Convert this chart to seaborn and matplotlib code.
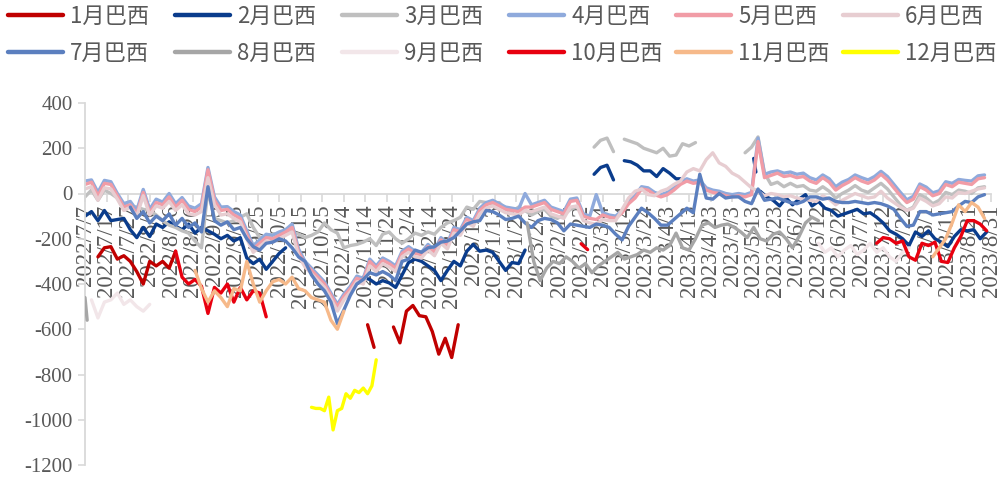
import matplotlib
matplotlib.use("Agg")
import matplotlib.pyplot as plt
import matplotlib.dates as mdates
from matplotlib.lines import Line2D
import pandas as pd
import seaborn as sns

# Each series is a list of segments: (first date, spacing in days, values).
# Separate segments leave gaps in the line.
JAN_BR = [
    ("2022-07-13", 3, [-280, -240, -235, -290, -275, -300, -345, -400, -300, -320, -300, -330, -255]),
    ("2022-11-15", 3, [-580, -680]),
    ("2022-11-27", 3, [-590, -660, -520, -495, -540, -545, -610, -710, -640, -725, -580]),
]
FEB_BR = [
    ("2022-07-07", 3, [-100, -80, -120, -75, -120, -115, -110, -160, -195, -150,
                       -190, -135, -150, -125, -145, -160, -135, -175, -150, -165,
                       -180, -200, -185, -210, -195, -285, -310, -290, -335, -300,
                       -265, -240]),
    ("2022-11-13", 3, [-370, -380, -400, -385, -395, -415, -360, -305, -290, -300,
                       -320, -340, -385, -340, -300, -320, -255, -225, -255, -250,
                       -260, -300, -340, -305, -310, -250]),
    ("2023-02-28", 3, [85, 115, 125, 60]),
    ("2023-03-14", 3, [145, 140, 125, 100, 100, 75, 110, 90, 65, 65]),
    ("2023-05-13", 1, [155, 95]),
    ("2023-05-16", 3, [10, -15, -30, -55, -20, -50, -25, -5, -55, -35,
                       -65, -75, -100, -90, -80, -70, -90, -85, -105, -130,
                       -165, -180, -200, -230, -170, -190, -165, -200, -215, -235,
                       -190, -160, -165, -160, -200, -170]),
]
MAR_BR = [
    ("2022-07-07", 3, [-15, 15, -30, 15, 0, -20, -45, -55, -60, -70,
                       -75, -95, -120, -140, -150, -165, -175, -210, -240, 15,
                       -110, -120, -130, -120, -105, -90, -150, -195, -190, -180,
                       -175, -165, -170, -180, -195, -185, -170, -130, -160, -175,
                       -240, -230, -225, -215, -200, -230, -180, -170, -200, -220,
                       -200, -175, -185, -170, -180, -150, -130, -120, -105, -60,
                       -70, -35, -40, -45, -40, -70, -80, -60, -75, -95,
                       -80, -70, -100, -110, -95, -70, -60]),
    ("2023-02-28", 3, [205, 235, 245, 185]),
    ("2023-03-14", 3, [240, 230, 220, 200, 190, 180, 200, 165, 170, 220, 210, 225]),
    ("2023-05-09", 3, [180, 205, 250, 90, 40, 50, 30, 45, 30, 35,
                       15, 10, 30, 10, -20, 0, 15, 35, 15, 5,
                       25, 45, 20, -15, -50, -75, -60, -5, -20, -45,
                       -30, 5, -5, 15, 10, 0, 25, 30]),
]
APR_BR = [
    ("2022-07-07", 3, [55, 60, 5, 58, 52, 0, -45, -35, -75, 18,
                       -70, -25, -38, 0, -45, -18, -55, -65, -45, 115,
                       -15, -60, -58, -80, -95, -165, -230, -205, -180, -185,
                       -170, -160, -135, -245, -300, -330, -360, -390, -440, -490,
                       -445, -410, -365, -375, -290, -320, -285, -300, -320, -255,
                       -235, -255, -260, -225, -250, -195, -220, -150, -160, -105,
                       -120, -65, -40, -30, -45, -60, -65, -70, 0, -50,
                       -40, -30, -60, -70, -80, -25, -20, -90, -100, -5,
                       -85, -95, -100, -75, -35, -10, 30, 25, 5, -5,
                       5, 25, 50, 65, 55, 60, 25, 15, 10, 0,
                       -5, 0, -5, 5, 245, 85, 95, 100, 90, 95,
                       85, 90, 70, 60, 82, 65, 30, 50, 62, 82,
                       70, 60, 75, 98, 75, 40, 5, -28, -12, 42,
                       28, 3, 12, 52, 45, 62, 58, 55, 78, 82]),
]
MAY_BR = [
    ("2022-07-07", 3, [40, 50, -10, 45, 40, -10, -60, -50, -90, 5,
                       -85, -40, -50, -15, -60, -30, -70, -80, -60, 105,
                       -30, -75, -70, -95, -110, -180, -245, -220, -195, -200,
                       -185, -170, -150, -260, -310, -340, -370, -400, -450, -500,
                       -455, -420, -375, -385, -300, -330, -295, -310, -330, -265,
                       -245, -265, -270, -235, -260, -205, -230, -160, -170, -115,
                       -130, -75, -50, -40, -55, -70, -75, -80, -60, -60,
                       -50, -40, -70, -80, -90, -35, -30, -100, -110, -115,
                       -95, -105, -110, -85, -45, -20, 20, 15, -5, -15,
                       -5, 15, 40, 55, 45, 50, 15, 5, 0, -10,
                       -15, -10, -15, -5, 230, 70, 80, 90, 75, 80,
                       70, 75, 55, 45, 70, 50, 15, 35, 50, 70,
                       55, 45, 60, 85, 60, 25, -10, -40, -25, 30,
                       15, -10, 0, 40, 30, 50, 45, 40, 65, 70]),
]
JUN_BR = [
    ("2022-07-07", 3, [20, 30, -30, 25, 20, -25, -75, -60, -100, -10,
                       -95, -55, -65, -35, -75, -50, -90, -95, -80, 70,
                       -50, -95, -90, -110, -125, -200, -260, -235, -210, -215,
                       -200, -185, -170, -275, -325, -355, -385, -415, -465, -520,
                       -470, -435, -390, -400, -320, -345, -310, -325, -345, -280,
                       -260, -280, -285, -250, -275, -220, -245, -175, -185, -130,
                       -145, -90, -65, -55, -70, -85, -90, -95, -75, -80,
                       -70, -60, -90, -100, -110, -60, -55, -120, -130, -135,
                       -115, -120, -120, -70, -20, 10, 20, -5, -10, 10,
                       20, 40, 55, 95, 110, 100, 150, 180, 135, 120,
                       90, 75, 50, 25, 10, -10, 0, -5, -15, -10,
                       -20, -25, -30, -35, -10, -25, -50, -30, -15, 0,
                       -10, -20, -15, 10, -20, -40, -60, -75, -65, -20,
                       -35, -55, -45, -15, -20, 5, 0, 10, 20, 25]),
]
JUL_BR = [
    ("2022-07-28", 3, [-60, -110, -80, -130, -100, -120, -90, -140, -110, -150,
                       -130, -170, 30, -120, -140, -125, -160, -150, -200, -235,
                       -250, -220, -215, -200, -210, -240, -280, -300, -360, -400,
                       -430, -480, -575, -515, -450, -400, -380, -350, -360, -345,
                       -360, -385, -300, -290, -250, -260, -240, -235, -215, -210,
                       -195, -165, -135, -125, -120,
                       -75, -80, -95, -115, -110, -100, -130, -150, -120, -110,
                       -115, -130, -165, -135, -140, -145, -150, -135, -140, -150,
                       -180, -205, -145, -105, -65, -85, -110, -140, -140, -115,
                       -90, -65, -85, 85, -20, -25, 0, -20, -15, -15,
                       -35, -45, 20, -30, -25, -20, -30, -40, -45, -35,
                       -15, -15, -25, -20, -35, -40, -40, -35, -40, -45,
                       -40, -45, -55, -70, -110, -145, -140, -80, -80, -95,
                       -90, -85, -80, -55, -35, -40, -15, -5]),
]
AUG_BR = [
    ("2022-07-07", 1, [-460, -560]),
    ("2023-01-28", 3, [-130, -300, -385, -330, -300, -310, -280, -300, -330, -310,
                       -350, -320, -300, -280, -260, -290, -280, -270, -250, -260,
                       -240, -250, -230, -175, -240, -250, -200, -140, -130, -150,
                       -140, -135, -150, -170, -195, -150, -200, -210, -180, -170,
                       -200, -240, -190, -130, -105, -120]),
]
SEP_BR = [
    ("2022-07-10", 3, [-470, -550, -480, -470, -440, -490, -470, -500, -520, -490]),
    ("2023-06-12", 3, [-220, -260, -240, -280, -250, -230, -270, -250, -220, -260,
                       -240, -280, -300, -260, -240]),
]
OCT_BR = [
    ("2022-08-18", 3, [-255, -370, -400, -380, -410, -530, -415, -440, -400, -480,
                       -415, -470, -430, -440, -545]),
    ("2023-02-22", 3, [-222, -248]),
    ("2023-07-09", 3, [-220, -195, -200, -220, -210, -280, -295, -220, -230, -215,
                       -300, -305, -240, -190, -120, -120, -135, -165]),
]
NOV_BR = [
    ("2022-08-27", 3, [-340, -420, -480, -430, -460, -500, -420, -430, -300, -400,
                       -480, -430, -390, -380, -400, -370, -420, -430, -460, -470,
                       -480, -560, -600, -520]),
    ("2023-08-04", 3, [-280, -240, -200, -130, -50, -80, -40, -60, -110]),
]
DEC_BR = [
    ("2022-10-20", 2, [-945, -950, -950, -960, -900, -1045, -960, -950, -885, -905,
                       -870, -880, -860, -885, -850, -735]),
]

LABELS = ["1月巴西", "2月巴西", "3月巴西", "4月巴西", "5月巴西", "6月巴西",
          "7月巴西", "8月巴西", "9月巴西", "10月巴西", "11月巴西", "12月巴西"]
COLORS = ["#C00000", "#0A3C8C", "#BFBFBF", "#8FAADC", "#F19CA6", "#E7CDD1",
          "#5B7FBF", "#A6A6A6", "#F2E6E9", "#E8000F", "#F6B98A", "#FFFF00"]
DATA = [JAN_BR, FEB_BR, MAR_BR, APR_BR, MAY_BR, JUN_BR,
        JUL_BR, AUG_BR, SEP_BR, OCT_BR, NOV_BR, DEC_BR]

X_START, X_END = "2022-07-07", "2023-08-31"
Y_TICKS = list(range(-1200, 401, 200))


def to_frame(segments):
    rows = []
    for k, (start, step, vals) in enumerate(segments):
        dates = pd.date_range(start, periods=len(vals), freq=f"{step}D")
        rows.extend((d, v, k) for d, v in zip(dates, vals))
    return pd.DataFrame(rows, columns=["date", "value", "seg"])


sns.set_style("white")
plt.rcParams["font.family"] = ["Noto Sans CJK SC", "DejaVu Sans"]

W, H = 1003, 479
fig = plt.figure(figsize=(W / 100, H / 100), dpi=100)
ax = fig.add_axes([85 / W, 14 / H, 906 / W, 362 / H])

for i, (segs, color) in enumerate(zip(DATA, COLORS)):
    sns.lineplot(data=to_frame(segs), x="date", y="value", units="seg",
                 estimator=None, sort=False, color=color, linewidth=2.4,
                 solid_joinstyle="round", solid_capstyle="round",
                 zorder=2 + i * 0.1, legend=False, ax=ax)

ax.set_xlim(pd.Timestamp(X_START), pd.Timestamp(X_END))
ax.set_ylim(-1200, 400)
ax.set_xlabel("")
ax.set_ylabel("")

grey_axis = "#D9D9D9"
text_grey = "#595959"
for side in ("top", "right"):
    ax.spines[side].set_visible(False)
for side in ("left", "bottom"):
    ax.spines[side].set_color(grey_axis)
    ax.spines[side].set_linewidth(1.3)
ax.spines["bottom"].set_position(("data", 0))
ax.spines["bottom"].set_zorder(1)

ax.set_yticks(Y_TICKS)
ax.set_yticklabels([str(v) for v in Y_TICKS], fontfamily="Liberation Serif",
                   fontsize=15, color=text_grey)
tick_dates = pd.date_range(X_START, X_END, freq="10D")
ax.set_xticks(mdates.date2num(tick_dates))
ax.set_xticklabels([f"{d.year}/{d.month}/{d.day}" for d in tick_dates],
                   rotation=90, fontfamily="Liberation Serif", fontsize=16.5,
                   color=text_grey)
ax.tick_params(axis="y", length=5, width=1.2, color=grey_axis, pad=4, left=True)
ax.tick_params(axis="x", length=6, width=1.2, color=grey_axis, pad=2,
               direction="out", bottom=True)

# Legend laid out as six equal-width columns of two rows each.
COL_STEP = 167
for c in range(6):
    idx = [c, c + 6]
    fig.legend([Line2D([], [], color=COLORS[i], linewidth=3.2) for i in idx],
               [LABELS[i] for i in idx], loc="upper left",
               bbox_to_anchor=((8 + c * COL_STEP) / W, 1 - 5 / H),
               frameon=False, fontsize=16, handlelength=2.48,
               handletextpad=0.32, labelspacing=0.62, borderaxespad=0,
               borderpad=0, labelcolor=text_grey)

fig.savefig("out.png", dpi=100)
